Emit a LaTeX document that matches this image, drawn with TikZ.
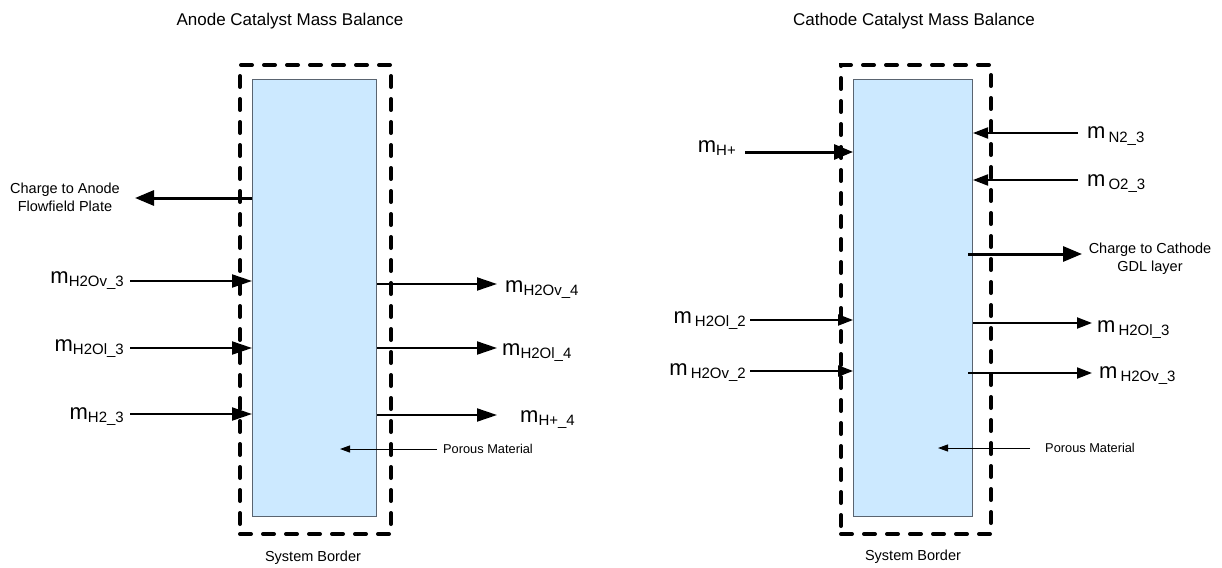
\documentclass[tikz,border=0pt]{standalone}
\usepackage{fontspec}
\setmainfont{Liberation Sans}
\usetikzlibrary{arrows.meta}

\definecolor{porefill}{HTML}{CCE9FF}
\definecolor{poreedge}{HTML}{5A6470}

% mass-flow symbol: large m with a lowered subscript
\newcommand{\mflow}[1]{{\fontsize{22}{22}\selectfont m}\raisebox{-3pt}{\fontsize{15}{15}\selectfont #1}}
\newcommand{\mflowsp}[1]{{\fontsize{22}{22}\selectfont m}\hspace{3pt}\raisebox{-3pt}{\fontsize{15}{15}\selectfont #1}}

\begin{document}
\begin{tikzpicture}[x=1pt,y=-1pt,
  sysborder/.style={draw, line width=4pt, dash pattern=on 11pt off 12pt, line cap=round,
                    inner sep=0pt, anchor=north west},
  porebox/.style={draw=poreedge, fill=porefill, line width=1pt, inner sep=0pt, anchor=north west},
  flowA/.style={line width=2pt, -{Triangle[length=20pt,width=13pt]}},
  flowC/.style={line width=2pt, -{Triangle[length=15pt,width=11pt]}},
  heavy/.style={line width=3pt, -{Triangle[length=19pt,width=15pt]}},
  pointer/.style={line width=1pt, -{Triangle[length=10pt,width=7pt]}},
  title/.style={font=\fontsize{17}{20}\selectfont},
  note/.style={font=\fontsize{14.5}{18}\selectfont, align=center},
  small/.style={font=\fontsize{12.8}{15}\selectfont},
  sym/.style={inner sep=0pt}]

\useasboundingbox (0,0) rectangle (1222,567);

% ---------------- Anode catalyst ----------------
\node[title] (atitle) at (290,21) {Anode Catalyst Mass Balance};
\node[porebox, minimum width=124, minimum height=437] (abox) at (252,79) {};
\node[sysborder, minimum width=151, minimum height=469] (aborder) at (238,63) {};
\node[note] (asys) at (313,558) {System Border};

% charge leaving towards the flowfield plate
\coordinate (achg) at (135,198);
\draw[heavy] (achg -| abox.west) -- (achg);
\node[note] (achgl) at (65,197) {Charge to Anode\\Flowfield Plate};

% inflows
\coordinate (ain1) at (130,281);
\coordinate (ain2) at (130,348);
\coordinate (ain3) at (130,414);
\draw[flowA] (ain1) -- (ain1 -| abox.west);
\draw[flowA] (ain2) -- (ain2 -| abox.west);
\draw[flowA] (ain3) -- (ain3 -| abox.west);
\node[sym, anchor=base east] (ain1l) at (124,283) {\mflow{H2Ov\_3}};
\node[sym, anchor=base east] (ain2l) at (124,351) {\mflow{H2Ol\_3}};
\node[sym, anchor=base east] (ain3l) at (124,419) {\mflow{H2\_3}};

% outflows
\coordinate (aout1) at (497,284);
\coordinate (aout2) at (497,348);
\coordinate (aout3) at (497,415);
\draw[flowA] (aout1 -| abox.east) -- (aout1);
\draw[flowA] (aout2 -| abox.east) -- (aout2);
\draw[flowA] (aout3 -| abox.east) -- (aout3);
\node[sym, anchor=base west] (aout1l) at (505,292) {\mflow{H2Ov\_4}};
\node[sym, anchor=base west] (aout2l) at (502,355) {\mflow{H2Ol\_4}};
\node[sym, anchor=base west] (aout3l) at (520,422) {\mflow{H+\_4}};

% porous material callout
\node[small, anchor=west, inner sep=0pt] (apore) at (443,449) {Porous Material};
\coordinate (aporetip) at (340,449);
\draw[pointer] (apore.west) ++(-6,0) -- (aporetip);

% ---------------- Cathode catalyst ----------------
\node[title] (ctitle) at (914,21) {Cathode Catalyst Mass Balance};
\node[porebox, minimum width=119, minimum height=437] (cbox) at (853,79) {};
\node[sysborder, minimum width=150, minimum height=469] (cborder) at (839,63) {};
\node[note] (csys) at (913,557) {System Border};

% protons entering from the membrane
\coordinate (chp) at (745,152);
\draw[heavy] (chp) -- (chp -| cbox.west);
\node[sym, anchor=base east] (chpl) at (736,152) {\mflow{H+}};

% gas inflows from the GDL side
\coordinate (cn2) at (1078,133);
\coordinate (co2) at (1078,180);
\draw[flowC] (cn2) -- (cn2 -| cbox.east);
\draw[flowC] (co2) -- (co2 -| cbox.east);
\node[sym, anchor=base west] (cn2l) at (1087,139) {\mflowsp{N2\_3}};
\node[sym, anchor=base west] (co2l) at (1087,186) {\mflowsp{O2\_3}};

% charge leaving towards the GDL
\coordinate (cchg) at (1082,254);
\draw[heavy] (968,254) -- (cchg);
\node[note] (cchgl) at (1150,259) {Charge to Cathode\\GDL layer};

% liquid / vapour water inflows
\coordinate (cin1) at (750,320);
\coordinate (cin2) at (750,371);
\draw[flowC] (cin1) -- (cin1 -| cbox.west);
\draw[flowC] (cin2) -- (cin2 -| cbox.west);
\node[sym, anchor=base east] (cin1l) at (746,323) {\mflowsp{H2Ol\_2}};
\node[sym, anchor=base east] (cin2l) at (746,375) {\mflowsp{H2Ov\_2}};

% liquid / vapour water outflows
\coordinate (cout1) at (1092,323);
\coordinate (cout2) at (1092,373);
\draw[flowC] (cout1 -| cbox.east) -- (cout1);
\draw[flowC] (968,373) -- (cout2);
\node[sym, anchor=base west] (cout1l) at (1097,332) {\mflowsp{H2Ol\_3}};
\node[sym, anchor=base west] (cout2l) at (1099,378) {\mflowsp{H2Ov\_3}};

% porous material callout
\node[small, anchor=west, inner sep=0pt] (cpore) at (1045,448) {Porous Material};
\coordinate (cporetip) at (938,448);
\draw[pointer] (cpore.west) ++(-15,0) -- (cporetip);

\end{tikzpicture}
\end{document}
